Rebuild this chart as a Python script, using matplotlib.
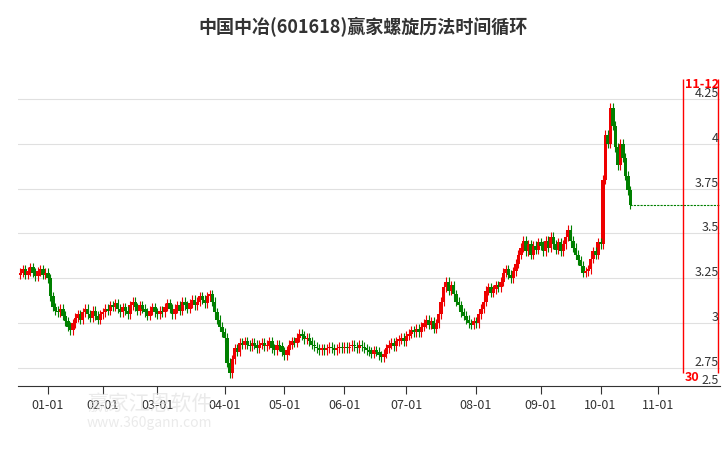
import matplotlib
matplotlib.use("Agg")
import matplotlib.pyplot as plt

plt.rcParams['font.family'] = ['Noto Sans CJK SC', 'DejaVu Sans']

closes = [3.28,3.30,3.27,3.29,3.31,3.28,3.26,3.29,3.30,3.27,3.28,3.25,
 3.15,3.09,3.07,3.06,3.08,3.04,3.01,2.98,2.96,
 3.00,3.03,3.05,3.02,3.06,3.08,3.05,3.03,3.07,3.04,3.02,3.05,3.06,
 3.08,3.07,3.10,3.09,3.11,3.08,3.06,3.09,3.07,3.05,3.10,3.12,3.09,3.07,3.10,3.08,3.06,3.04,3.07,3.09,3.06,3.05,
 3.07,3.06,3.09,3.11,3.08,3.05,3.08,3.10,3.07,3.12,3.10,3.08,3.11,3.13,3.10,3.12,3.15,3.13,3.11,3.15,3.16,
 3.12,3.06,3.02,2.98,2.95,2.92,
 2.78,2.72,2.80,2.86,2.84,2.89,2.88,2.90,
 2.88,2.87,2.89,2.88,2.86,2.88,2.89,2.87,2.88,2.90,2.86,2.85,2.88,2.87,2.84,2.82,
 2.85,2.88,2.90,2.89,2.92,2.94,2.93,2.91,2.92,2.90,2.88,2.87,2.86,2.85,2.86,2.85,2.86,2.87,2.86,2.85,2.86,2.87,2.86,2.87,
 2.86,2.87,2.88,2.87,2.86,2.88,2.87,2.86,2.85,2.84,2.83,2.85,2.84,2.82,2.81,2.83,2.86,2.88,2.89,2.87,2.90,2.91,2.92,2.90,2.93,
 2.94,2.96,2.95,2.97,2.95,2.98,3.00,3.02,2.99,3.01,2.97,3.00,3.05,3.12,3.20,3.23,3.18,3.21,3.16,3.12,
 3.10,3.06,3.04,3.02,3.00,2.99,3.01,3.00,
 3.05,3.08,3.12,3.18,3.20,3.17,3.19,3.21,3.20,3.23,3.28,3.30,3.27,3.25,3.29,3.33,3.38,3.42,3.46,3.40,3.44,3.38,3.43,3.41,3.45,3.43,
 3.40,3.46,3.42,3.48,3.44,3.41,3.45,3.40,3.44,3.48,3.52,3.46,3.42,3.38,3.35,3.32,3.28,3.29,3.30,
 3.36,3.40,3.38,3.45,3.44,
 3.80,4.05,4.00,4.20,4.10,3.98,3.88,4.00,3.92,3.82,3.74,3.66]
opens = [3.27] + closes[:-1]
tick_labels = ['01-01','02-01','03-01','04-01','05-01','06-01','07-01','08-01','09-01','10-01','11-01']
tick_pos = [11,33,55,82,106,130,155,183,209,233,256]
yticks = [2.75,3.0,3.25,3.5,3.75,4.0,4.25]
cycle_lines = [266, 280]
cycle_top = ['11-12', '11-26']
cycle_bottom = ['30', '40']
title = '中国中冶(601618)赢家螺旋历法时间循环'

fig = plt.figure(figsize=(7.26,4.5), dpi=100)
ax = fig.add_axes([18/726, 64/450, 702/726, 316/450])
pad = 0.025
for i,(o,c) in enumerate(zip(opens,closes)):
    col = '#ee0000' if c >= o else '#008000'
    hi = max(o,c)+pad; lo = min(o,c)-pad
    ax.vlines(i, lo, hi, color=col, lw=0.8)
    h = abs(c-o)
    if h < 0.004:
        ax.hlines(c, i-0.7, i+0.7, color=col, lw=0.8)
    else:
        ax.bar(i, h, bottom=min(o,c), width=1.4, color=col, lw=0)
n = len(closes)
ax.hlines(closes[-1], n-1, 281, color='#008000', lw=0.8, linestyles=(0,(2,1)))
for k,x in enumerate(cycle_lines):
    ax.vlines(x, 2.72, 4.36, color='red', lw=1)
    ax.text(x+1, 4.33, cycle_top[k], color='red', fontsize=9, fontweight='bold', va='center', ha='left', clip_on=True)
    ax.text(x+1, 2.70, cycle_bottom[k], color='red', fontsize=9, fontweight='bold', va='center', ha='left', clip_on=True)
ax.set_xlim(-1, 281)
ax.set_ylim(2.65, 4.41)
for y in yticks:
    ax.axhline(y, color='#e0e0e0', lw=0.8, zorder=0)
    ax.text(280.5, y+0.03, ('%g' % y), ha='right', va='center', color='#333333', fontsize=9)
ax.text(280.5, 2.68, '2.5', ha='right', va='center', color='#333333', fontsize=9)
ax.set_yticks([])
ax.set_xticks(tick_pos)
ax.set_xticklabels(tick_labels, fontsize=9, color='#333333')
ax.tick_params(axis='x', length=6, color='#333333')
for s in ['left','right','top']:
    ax.spines[s].set_visible(False)
ax.spines['bottom'].set_color('#333333')
fig.text(0.5, 0.94, title, ha='center', va='center', fontsize=13, fontweight='bold', color='#333333')
fig.text(0.12, 0.09, '赢家江恩软件', fontsize=15, color='#dddddd', alpha=0.6, zorder=0)
fig.text(0.12, 0.05, 'www.360gann.com', fontsize=10, color='#dddddd', alpha=0.6, zorder=0)
fig.savefig('out.png', dpi=100)
